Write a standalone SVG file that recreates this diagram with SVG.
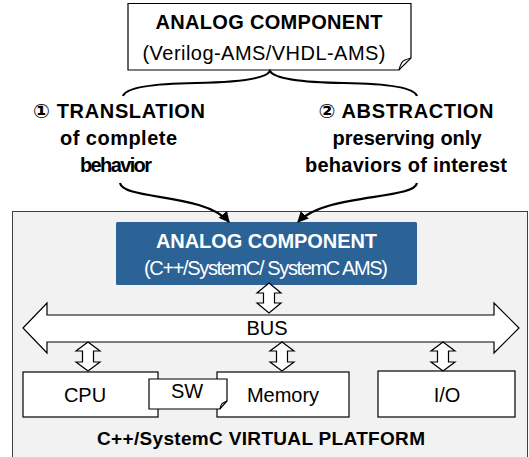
<svg xmlns="http://www.w3.org/2000/svg" width="529" height="457" viewBox="0 0 529 457">
<defs>
<style>
text{font-family:"Liberation Sans","DejaVu Sans",sans-serif;font-size:20px;fill:#000;text-anchor:middle}
.b{font-weight:bold}
.w{fill:#fff}
.box{fill:#fff;stroke:#000;stroke-width:1.2}
.conn{fill:none;stroke:#000;stroke-width:2.2}
.dbl{fill:#fff;stroke:#000;stroke-width:1.2;stroke-linejoin:miter}
</style>
<marker id="ah" viewBox="0 0 10 10" refX="9" refY="5" markerWidth="5" markerHeight="5" orient="auto" markerUnits="strokeWidth">
<path d="M0,0 L10,5 L0,10 Z" fill="#000"/>
</marker>
</defs>

<g id="platform">
<rect x="12.5" y="211.5" width="515" height="260" fill="#f2f2f2" stroke="#404040" stroke-width="1"/>
<text class="b" x="261" y="445" style="font-size:19px" textLength="328">C++/SystemC VIRTUAL PLATFORM</text>
</g>

<g id="analog-top">
<path class="box" d="M128,3.5 H411 V58 L399,70 H128 Z"/>
<path fill="none" stroke="#000" stroke-width="1.2" d="M399,70 Q401,62 404,60.5 Q407,59 411,58"/>
<text class="b" x="269" y="29" textLength="227">ANALOG COMPONENT</text>
<text x="264" y="60" textLength="243">(Verilog-AMS/VHDL-AMS)</text>
</g>

<g id="label-translation">
<text class="b" x="119" y="118" textLength="172">① TRANSLATION</text>
<text class="b" x="118.5" y="145" textLength="117">of complete</text>
<text class="b" x="116" y="172" textLength="72">behavior</text>
</g>

<g id="label-abstraction">
<text class="b" x="406" y="118" textLength="175">② ABSTRACTION</text>
<text class="b" x="407" y="145" textLength="149">preserving only</text>
<text class="b" x="406" y="172" textLength="202">behaviors of interest</text>
</g>

<g id="analog-vp">
<rect x="116" y="222" width="301" height="63" rx="1.5" fill="#2b6397"/>
<text class="b w" x="266.5" y="248" textLength="221">ANALOG COMPONENT</text>
<text class="w" x="266" y="275" textLength="244">(C++/SystemC/ SystemC AMS)</text>
</g>

<g id="bus">
<polygon class="dbl" points="23,328 47,303 47,315 494,315 494,303 519,328 494,353 494,342 47,342 47,353"/>
<text x="267" y="335">BUS</text>
</g>

<g id="cpu">
<rect class="box" x="23" y="372" width="135" height="45"/>
<text x="85" y="402">CPU</text>
</g>

<g id="memory">
<rect class="box" x="217" y="372" width="132" height="45"/>
<text x="283" y="402">Memory</text>
</g>

<g id="io">
<rect class="box" x="378" y="371" width="137" height="46"/>
<text x="447" y="402">I/O</text>
</g>

<g id="sw">
<path class="box" d="M149,379 H227 V401 L220,409 H149 Z"/>
<path fill="none" stroke="#000" stroke-width="1.2" d="M220,409 Q221,404 223,403 Q225,402 227,401"/>
<text x="187" y="398">SW</text>
</g>

<g id="connectors">
<path class="conn" d="M123,96 Q127,84 196,83 Q264,82 270,71 Q276,82 344,83 Q413,84 417,96"/>
<path class="conn" marker-end="url(#ah)" d="M120,183 C123,200 205,193 229,222"/>
<path class="conn" marker-end="url(#ah)" d="M417,183 C414,200 325,193 298,222"/>
<polygon class="dbl" points="269,283 281,293 274.5,293 274.5,303 281,303 269,313 257,303 263.5,303 263.5,293 257,293"/>
<polygon class="dbl" points="88,342 100,351 93.5,351 93.5,362 100,362 88,371 76,362 82.5,362 82.5,351 76,351"/>
<polygon class="dbl" points="282,342 294,351 287.5,351 287.5,362 294,362 282,371 270,362 276.5,362 276.5,351 270,351"/>
<polygon class="dbl" points="443,342 455,351 448.5,351 448.5,362 455,362 443,371 431,362 437.5,362 437.5,351 431,351"/>
</g>
</svg>
